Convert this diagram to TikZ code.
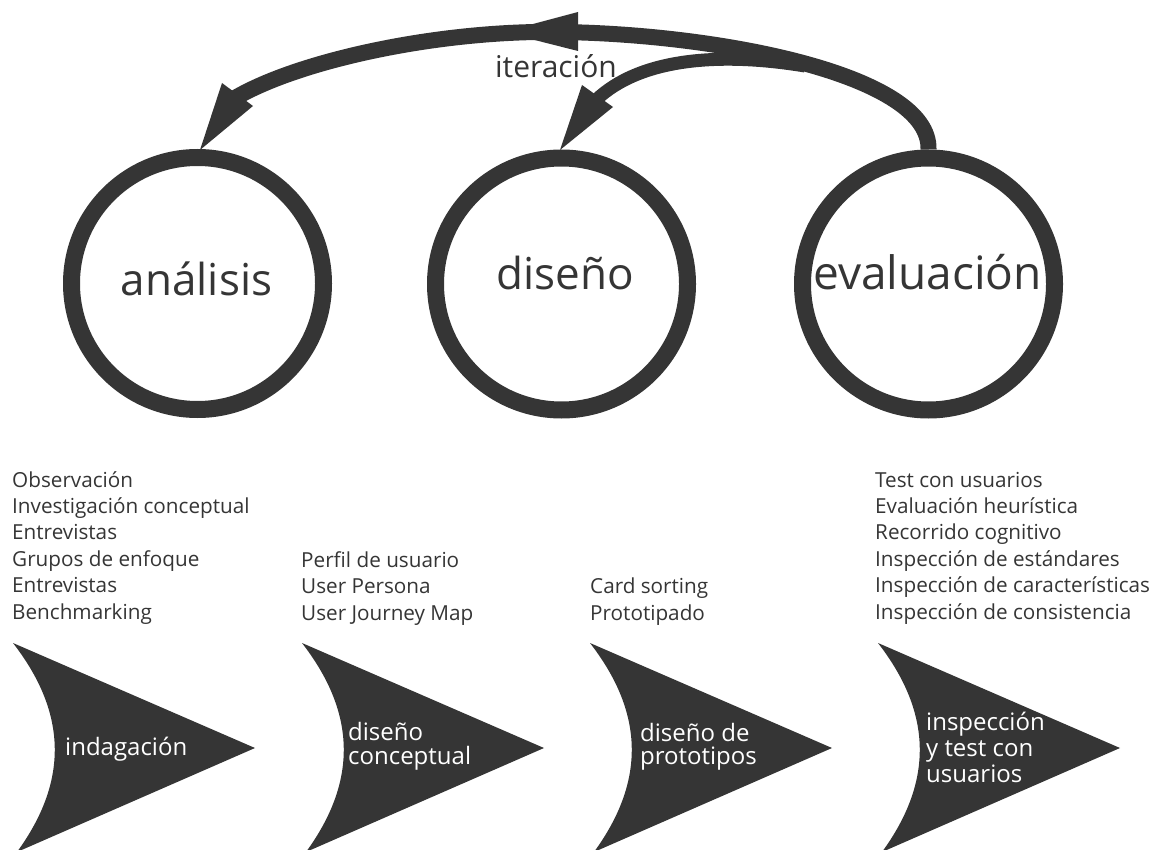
\documentclass[tikz,border=0pt]{standalone}
\usepackage{fontspec}
\setmainfont{Open Sans}
\definecolor{dk}{RGB}{53,53,53}
\begin{document}
\begin{tikzpicture}[x=1pt,y=-1pt,
  ring/.style={circle, draw=dk, line width=17pt, minimum size=252pt, inner sep=0pt},
  bigtxt/.style={text=dk, anchor=base, inner sep=0pt, font=\fontsize{44}{50}\selectfont},
  listtxt/.style={text=dk, anchor=base west, align=left, inner sep=0pt, font=\fontsize{20.7}{26.4}\selectfont},
  chevtxt/.style={text=white, anchor=base west, align=left, inner sep=0pt},
  arcmain/.style={draw=dk, line width=16pt},
  arcsub/.style={draw=dk, line width=13pt},
  headfill/.style={fill=dk, draw=none},
  chevfill/.style={fill=dk, draw=none}
]
\useasboundingbox (0,0) rectangle (1153,850);

% circles
\node[ring] (an) at (197.5,283.5) {};
\node[ring] (di) at (561.5,284) {};
\node[ring] (ev) at (928.5,284) {};
\node[bigtxt] (antxt) at (196.5,295) {análisis};
\node[bigtxt] (ditxt) at (565,289) {diseño};
\node[bigtxt, font=\fontsize{46}{50}\selectfont] (evtxt) at (927.5,289) {evaluación};

% iteration arrows
\coordinate (peak) at (560,32);
\coordinate (aEnd) at (235,98);
\coordinate (aTip) at (200,150);
\coordinate (aB1) at (222,83);
\coordinate (aB2) at (253,106);
\coordinate (bStart) at (805,66);
\coordinate (bEnd) at (596,100);
\coordinate (bTip) at (560,150);
\coordinate (bB1) at (582,85);
\coordinate (bB2) at (613,107);
\coordinate (tB1) at (578,12);
\coordinate (tB2) at (578,51);
\coordinate (tTip) at (503,32);

\draw[arcmain] (ev.north) .. controls (931,75) and (720,34) .. (peak)
   .. controls (440,30) and (300,60) .. (aEnd);
\draw[arcsub] (bStart) .. controls (720,52) and (640,58) .. (bEnd);
\fill[headfill] (aTip) -- (aB1) -- (aB2) -- cycle;
\fill[headfill] (bTip) -- (bB1) -- (bB2) -- cycle;
\fill[headfill] (tB1) -- (tB2) -- (tTip) -- cycle;
\node[text=dk, anchor=base, inner sep=0pt, font=\fontsize{30}{32}\selectfont] (iter) at (556,78) {iteración};

% lists (base anchor = last line baseline)
\node[listtxt] (l1) at (12,619) {Observación\\Investigación conceptual\\Entrevistas\\Grupos de enfoque\\Entrevistas\\Benchmarking};
\node[listtxt] (l2) at (301,620) {Perfil de usuario\\User Persona\\User Journey Map};
\node[listtxt] (l3) at (590,620) {Card sorting\\Prototipado};
\node[listtxt] (l4) at (875,619) {Test con usuarios\\Evaluación heurística\\Recorrido cognitivo\\Inspección de estándares\\Inspección de características\\Inspección de consistencia};

% chevrons
\foreach \x/\nm in {13/c1,302/c2,590/c3,878/c4}{
  \fill[chevfill] (\x,643) -- (\x+242,748) -- (\x+4,852)
     .. controls (\x+55,782) and (\x+55,714) .. (\x,643) -- cycle;
  \coordinate (\nm) at (\x,748);
}
\node[chevtxt, font=\fontsize{24}{26}\selectfont] (t1) at (65,755) {indagación};
\node[chevtxt, font=\fontsize{24}{24}\selectfont] (t2) at (348,764) {diseño\\conceptual};
\node[chevtxt, font=\fontsize{24}{23}\selectfont] (t3) at (640,764) {diseño de\\prototipos};
\node[chevtxt, font=\fontsize{24}{26}\selectfont] (t4) at (926,782) {inspección\\y test con\\usuarios};
\end{tikzpicture}
\end{document}
